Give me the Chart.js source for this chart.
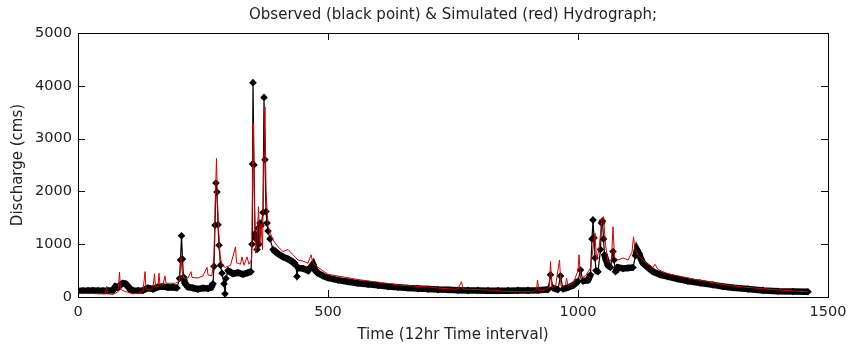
<!DOCTYPE html>
<html>
<head>
<meta charset="utf-8">
<script src="https://cdn.jsdelivr.net/npm/chart.js@4"></script>
<style>
  body { margin: 0; background: #fff; }
  #wrap { width: 848px; height: 347px; }
</style>
</head>
<body>
<div id="wrap"><canvas id="hydroChart"></canvas></div>
<script>
// Observed discharge (black points), time in 12hr steps
const obsTime = [0, 10, 20, 30, 40, 50, 60, 70, 75, 80, 85, 90, 95, 100, 105, 110, 120, 130, 140, 150,
  160, 170, 180, 190, 198, 203, 205, 207, 209, 211, 214, 220, 230, 240, 250, 260, 266, 270, 272, 274,
  276, 278, 280, 282, 285, 288, 292, 294, 296, 300, 310, 320, 330, 340, 346, 348, 349, 350, 352, 354,
  356, 358, 360, 362, 364, 366, 370, 372, 374, 376, 378, 380, 384, 390, 400, 410, 420, 430, 436, 438,
  440, 450, 460, 465, 470, 475, 480, 490, 500, 520, 540, 560, 580, 600, 620, 640, 660, 680, 700, 720,
  740, 760, 780, 800, 820, 840, 860, 880, 900, 920, 940, 945, 950, 960, 965, 970, 980, 990, 1000, 1005,
  1010, 1020, 1025, 1028, 1030, 1032, 1034, 1036, 1040, 1045, 1047, 1049, 1051, 1053, 1056, 1060, 1065, 1070, 1072, 1075,
  1080, 1090, 1100, 1110, 1115, 1118, 1122, 1126, 1130, 1140, 1150, 1165, 1180, 1200, 1220, 1245, 1270, 1290, 1310, 1340,
  1370, 1400, 1430, 1460];
const obsFlow = [120, 118, 120, 122, 120, 118, 120, 130, 200, 180, 230, 260, 250, 200, 140, 125, 120, 125, 170, 150,
  190, 200, 180, 185, 170, 350, 700, 1160, 720, 380, 260, 190, 170, 150, 170, 160, 180, 250, 580, 1360,
  2160, 1990, 1370, 980, 600, 450, 250, 60, 350, 500, 440, 460, 430, 460, 480, 1000, 2520, 4060, 2500, 1200,
  1100, 900, 1300, 1000, 1400, 1350, 1600, 3780, 2600, 1620, 1400, 1250, 1100, 900, 820, 760, 720, 660, 600, 390,
  550, 540, 500, 560, 620, 500, 450, 400, 360, 320, 290, 260, 240, 220, 200, 185, 170, 160, 150, 140,
  135, 130, 125, 125, 120, 120, 120, 125, 125, 130, 140, 420, 170, 140, 400, 150, 180, 220, 300, 510,
  300, 320, 420, 1100, 1460, 1120, 740, 500, 480, 900, 1400, 1440, 1100, 800, 700, 600, 560, 860, 700, 480,
  560, 540, 550, 560, 780, 890, 820, 720, 640, 560, 480, 420, 385, 340, 300, 265, 230, 200, 176, 150,
  125, 110, 105, 100];

// Simulated discharge (red line)
const simTime = [0, 30, 50, 55, 57, 59, 70, 80, 83, 85, 90, 100, 110, 120, 130, 134, 136, 145, 150, 153,
  155, 160, 162, 164, 170, 174, 176, 185, 195, 203, 206, 208, 212, 220, 226, 228, 240, 250, 258, 260,
  268, 272, 275, 277, 279, 281, 284, 288, 295, 305, 315, 317, 325, 328, 332, 338, 342, 347, 349, 350,
  351, 353, 355, 358, 361, 364, 366, 369, 372, 374, 376, 380, 385, 390, 400, 410, 420, 430, 440, 450,
  460, 466, 470, 480, 500, 530, 560, 600, 650, 700, 730, 760, 767, 770, 800, 830, 850, 880, 910, 917,
  919, 922, 935, 943, 945, 948, 955, 963, 966, 975, 977, 980, 990, 1000, 1002, 1005, 1015, 1025, 1031, 1034,
  1037, 1042, 1048, 1051, 1055, 1060, 1067, 1070, 1073, 1080, 1090, 1100, 1108, 1111, 1114, 1120, 1130, 1140, 1150, 1154,
  1160, 1180, 1200, 1230, 1260, 1300, 1340, 1380, 1420, 1460];
const simFlow = [70, 65, 60, 55, 200, 60, 50, 100, 470, 150, 120, 90, 60, 70, 110, 480, 150, 130, 180, 440,
  200, 200, 450, 220, 230, 400, 260, 260, 260, 300, 750, 500, 350, 360, 480, 370, 360, 400, 560, 420,
  400, 800, 2000, 2625, 1800, 1300, 800, 600, 560, 600, 950, 650, 620, 760, 600, 760, 620, 700, 2000, 3290,
  2900, 1700, 830, 1000, 1710, 1000, 1390, 900, 2800, 3600, 2025, 1340, 1200, 1080, 950, 860, 900, 800, 700, 680,
  640, 800, 640, 560, 430, 380, 330, 280, 220, 190, 160, 150, 290, 150, 140, 130, 110, 100, 100, 140,
  320, 120, 140, 200, 670, 180, 200, 700, 200, 220, 360, 220, 250, 500, 800, 350, 400, 550, 1000, 1210,
  700, 900, 1500, 1520, 1000, 650, 700, 1330, 750, 700, 740, 700, 850, 1140, 900, 800, 700, 620, 560, 620,
  520, 440, 400, 340, 290, 220, 180, 150, 120, 100];

const xTicks = [0, 500, 1000, 1500];
const yTicks = [0, 1000, 2000, 3000, 4000, 5000];

const chartTitle = 'Observed (black point) & Simulated (red) Hydrograph;';
const font = 'DejaVu Sans';

function toPoints(ts, vs) {
  return ts.map((t, i) => ({ x: t, y: vs[i] }));
}

// MATLAB style box with inward ticks on all four sides
const boxTicks = {
  id: 'boxTicks',
  afterDraw(chart) {
    const { ctx, chartArea: a, scales } = chart;
    const len = 7;
    ctx.save();
    ctx.strokeStyle = '#000';
    ctx.lineWidth = 1;
    ctx.strokeRect(a.left + 0.5, a.top + 0.5, a.right - a.left, a.bottom - a.top);
    ctx.beginPath();
    for (let v of xTicks) {
      const px = Math.round(scales.x.getPixelForValue(v)) + 0.5;
      ctx.moveTo(px, a.bottom); ctx.lineTo(px, a.bottom - len);
      ctx.moveTo(px, a.top); ctx.lineTo(px, a.top + len);
    }
    for (let v of yTicks) {
      const py = Math.round(scales.y.getPixelForValue(v)) + 0.5;
      ctx.moveTo(a.left, py); ctx.lineTo(a.left + len, py);
      ctx.moveTo(a.right, py); ctx.lineTo(a.right - len, py);
    }
    ctx.stroke();
    ctx.restore();
  }
};

new Chart(document.getElementById('hydroChart'), {
  type: 'line',
  data: {
    datasets: [
      {
        label: 'Simulated',
        data: toPoints(simTime, simFlow),
        borderColor: '#d00000',
        borderWidth: 1,
        pointRadius: 0,
        tension: 0
      },
      {
        label: 'Observed',
        data: toPoints(obsTime, obsFlow),
        borderColor: '#000',
        borderWidth: 1.2,
        pointStyle: 'rectRot',
        pointRadius: 3.8,
        pointBackgroundColor: '#000',
        pointBorderColor: '#000',
        pointBorderWidth: 0,
        tension: 0,
        segment: {
          // dense markers make the low-flow band look thick
          borderWidth: c => Math.abs(c.p1.parsed.y - c.p0.parsed.y) < 150 ? 6.5 : 1.2
        }
      }
    ]
  },
  options: {
    responsive: true,
    maintainAspectRatio: false,
    animation: false,
    layout: { padding: { left: 0, right: 20, top: 0, bottom: 0 } },
    plugins: {
      legend: { display: false },
      tooltip: { enabled: false }
    },
    scales: {
      x: {
        type: 'linear',
        min: 0,
        max: 1500,
        afterFit(s) { s.height = 50; s.paddingLeft = 0; s.paddingRight = 0; },
        afterBuildTicks(s) { s.ticks = xTicks.map(v => ({ value: v })); },
        grid: { display: false, drawTicks: false },
        border: { display: false },
        ticks: { color: '#222', padding: 7, font: { family: font, size: 14.5 }, callback: v => String(v) },
        title: {
          display: true,
          text: 'Time (12hr Time interval)',
          color: '#222',
          font: { family: font, size: 15 },
          padding: { top: 3, bottom: 3 }
        }
      },
      // top axis only carries the title, so it sits centred over the plot box
      top: {
        type: 'linear',
        position: 'top',
        min: 0,
        max: 1500,
        afterFit(s) { s.height = 33; s.paddingLeft = 0; s.paddingRight = 0; },
        grid: { display: false, drawTicks: false },
        border: { display: false },
        ticks: { display: false },
        title: {
          display: true,
          text: chartTitle,
          color: '#222',
          font: { family: font, size: 15 },
          padding: { top: 6, bottom: 6 }
        }
      },
      y: {
        min: 0,
        max: 5000,
        afterFit(s) { s.width = 78; },
        afterBuildTicks(s) { s.ticks = yTicks.map(v => ({ value: v })); },
        grid: { display: false, drawTicks: false },
        border: { display: false },
        ticks: { color: '#222', padding: 6, font: { family: font, size: 14.5 }, callback: v => String(v) },
        title: {
          display: true,
          text: 'Discharge (cms)',
          color: '#222',
          font: { family: font, size: 15 },
          padding: { top: 9, bottom: 9 }
        }
      }
    }
  },
  plugins: [boxTicks]
});
</script>
</body>
</html>
